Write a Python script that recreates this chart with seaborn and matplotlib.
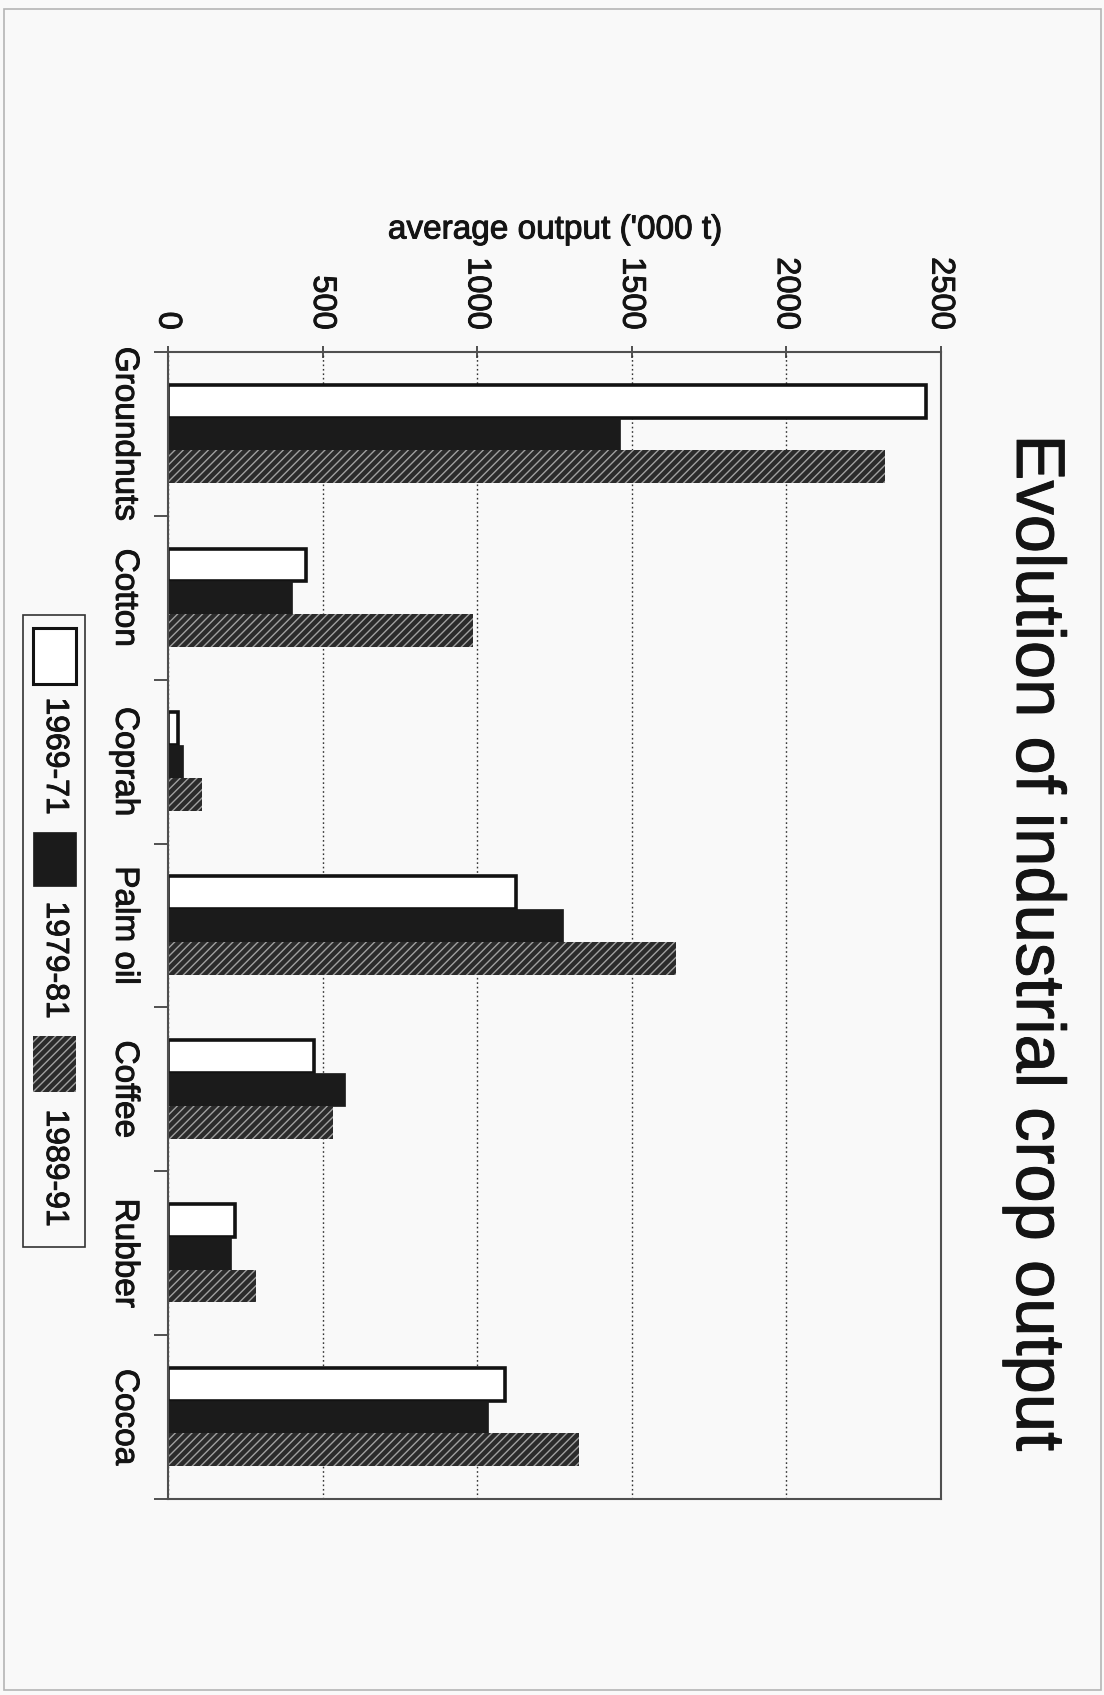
import numpy as np
import pandas as pd
import matplotlib
matplotlib.use("Agg")
import matplotlib.pyplot as plt
import matplotlib.patheffects as pe
from matplotlib.patches import Rectangle
import seaborn as sns

# ---- data -------------------------------------------------------------
crops = ["Groundnuts", "Cotton", "Coprah", "Palm oil", "Coffee", "Rubber", "Cocoa"]
periods = ["1969-71", "1979-81", "1989-91"]
output_1969_71 = [2450, 445, 32, 1125, 472, 217, 1090]
output_1979_81 = [1462, 401, 49, 1278, 574, 204, 1035]
output_1989_91 = [2320, 988, 111, 1644, 533, 286, 1330]
value_ticks = [0, 500, 1000, 1500, 2000, 2500]

title = "Evolution of industrial crop output"
value_label = "average output ('000 t)"

# ---- canvas -----------------------------------------------------------
W, H, DPI = 1104, 1695, 100
PAGE = "#f9f9f9"
INK = "#141414"

sns.set_theme(style="white")
plt.rcParams["font.family"] = ["Liberation Sans", "DejaVu Sans"]
plt.rcParams["hatch.linewidth"] = 1.0

# slightly heavier strokes for all lettering
HEAVY = [pe.withStroke(linewidth=0.7, foreground=INK)]


def fx(px):
    return px / W


def fy(py):
    return 1 - py / H


df = pd.concat(
    [pd.DataFrame({"crop": crops, "period": p, "output": v})
     for p, v in zip(periods, [output_1969_71, output_1979_81, output_1989_91])],
    ignore_index=True,
)

fig = plt.figure(figsize=(W / DPI, H / DPI), dpi=DPI, facecolor=PAGE)
ax = fig.add_axes([fx(168), fy(1499), fx(941) - fx(168), fy(352) - fy(1499)])
ax.set_facecolor(PAGE)

sns.barplot(data=df, x="output", y="crop", hue="period", order=crops,
            hue_order=periods, orient="h", width=0.6, gap=0, saturation=1,
            legend=False, ax=ax)

styles = [
    dict(facecolor="white", edgecolor="#121212", linewidth=2.6),
    dict(facecolor="#1b1b1b", edgecolor="#1b1b1b", linewidth=0.5),
    dict(facecolor="#2b2b2b", edgecolor="#a0a0a0", linewidth=0, hatch="////"),
]
for cont, st in zip(ax.containers, styles):
    for bar in cont:
        bar.set(**st)

# ---- axes -------------------------------------------------------------
ax.set_xlim(0, 2500)
ax.set_ylim(len(crops) - 0.5, -0.5)
ax.set_xlabel("")
ax.set_ylabel("")

# value axis runs along the top edge, labels turned with the page
ax.xaxis.tick_top()
ax.set_xticks(value_ticks)
ax.set_xticklabels([str(t) for t in value_ticks])
ax.tick_params(axis="x", top=True, bottom=False, direction="inout", length=8,
               width=1.2, color="#333333", pad=12, labelsize=23.5,
               labelcolor=INK)
for lab in ax.get_xticklabels():
    lab.set_rotation(-90)
    lab.set_rotation_mode("default")
    lab.set_ha("center")
    lab.set_va("bottom")
    lab.set_path_effects(HEAVY)

# category axis: labels at group centres, ticks at group boundaries
ax.set_yticks(range(len(crops)))
ax.set_yticklabels(crops)
ax.set_yticks(np.arange(-0.5, len(crops)), minor=True)
ax.tick_params(axis="y", which="major", left=True, length=0, pad=20,
               labelsize=24, labelcolor=INK)
ax.tick_params(axis="y", which="minor", left=True, direction="out",
               length=10, width=1.2, color="#333333")
for lab in ax.get_yticklabels():
    lab.set_rotation(-90)
    lab.set_rotation_mode("default")
    lab.set_ha("right")
    lab.set_va("center")
    lab.set_path_effects(HEAVY)

ax.grid(axis="x", linestyle=(0, (1.2, 2.0)), color="#333333", linewidth=1.0)
ax.grid(axis="y", visible=False)
ax.set_axisbelow(True)

for sp in ax.spines.values():
    sp.set_visible(True)
    sp.set_color("#505050")
    sp.set_linewidth(1.5)

# ---- texts ------------------------------------------------------------
fig.text(fx(555), fy(230), value_label, ha="center", va="center",
         fontsize=24, color=INK, path_effects=HEAVY)
fig.text(fx(1035), fy(943), title, rotation=-90, ha="center", va="center",
         fontsize=49.5, color=INK, path_effects=HEAVY)

# ---- legend (turned with the page) ------------------------------------
fig.patches.append(Rectangle((fx(23), fy(1247)), fx(85) - fx(23),
                             fy(615) - fy(1247), transform=fig.transFigure,
                             fill=False, edgecolor="#333333", linewidth=1.2))
key_spans = [(628, 684), (832, 886), (1036, 1092)]
text_centers = [756, 960, 1168]
for st, (y0, y1), yc, lab in zip(styles, key_spans, text_centers, periods):
    key = dict(st)
    if key.get("linewidth", 0) > 1:
        key["linewidth"] = 2.2
    fig.patches.append(Rectangle((fx(33), fy(y1)), fx(76) - fx(33),
                                 fy(y0) - fy(y1), transform=fig.transFigure,
                                 **key))
    fig.text(fx(55), fy(yc), lab, rotation=-90, ha="center", va="center",
             fontsize=23, color=INK, path_effects=HEAVY)

# page frame
fig.patches.append(Rectangle((fx(4), fy(1690)), fx(1101) - fx(4),
                             fy(9) - fy(1690), transform=fig.transFigure,
                             fill=False, edgecolor="#b5b5b5", linewidth=1.2))

fig.savefig("out.png", dpi=DPI, facecolor=PAGE)
